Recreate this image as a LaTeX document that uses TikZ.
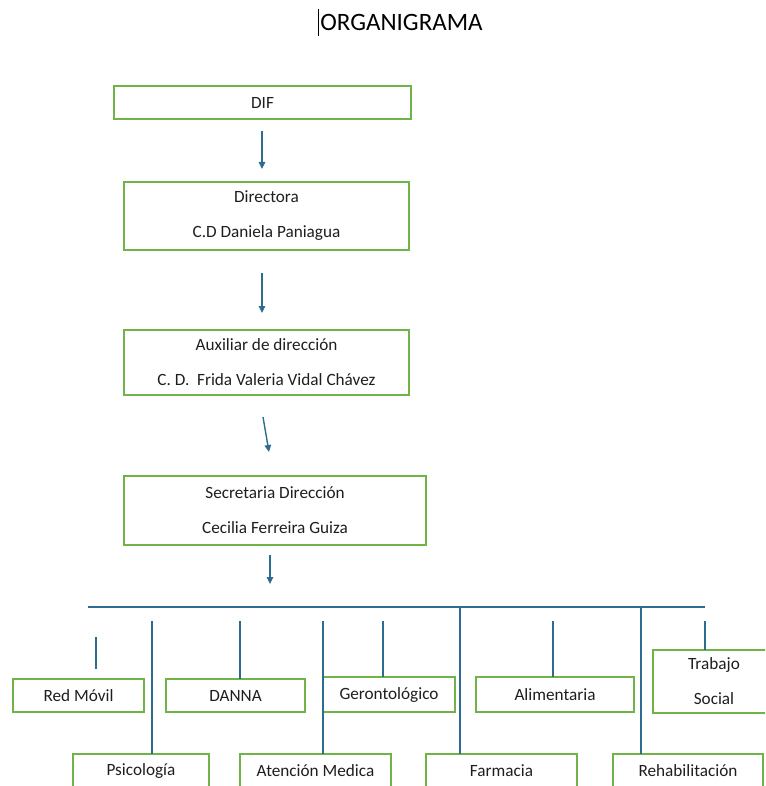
\documentclass[tikz,border=0pt]{standalone}
\usepackage{fontspec}
\setmainfont{Carlito}
\usetikzlibrary{arrows.meta}
\definecolor{boxgreen}{RGB}{112,180,71}
\definecolor{linkblue}{RGB}{44,108,145}
\definecolor{txtgray}{RGB}{30,30,30}
\tikzset{
  orgbox/.style={draw=boxgreen, line width=1.4pt, inner sep=0pt, outer sep=0pt,
    align=center, text=txtgray, font=\fontsize{17.2}{35}\selectfont},
  link/.style={draw=linkblue, line width=1.4pt},
  arr/.style={link, -{Triangle[width=6.5pt,length=7pt]}}
}
\begin{document}
\begin{tikzpicture}[x=1pt,y=-1pt]
\useasboundingbox (0,0) rectangle (765,786);
\clip (0,0) rectangle (765,786);
% title
\node[font=\fontsize{25}{28}\selectfont, text=black] (title) at (401.5,22) {ORGANIGRAMA};
\coordinate (curT) at (318,9);
\coordinate (curB) at (318,36);
\draw[line width=0.8pt] (curT) -- (curB);
% main chain
\node[orgbox, minimum width=297pt, minimum height=33pt] (dif) at (262.5,102.5) {DIF};
\node[orgbox, minimum width=285pt, minimum height=68pt] (dir) at (266.5,216) {Directora\\C.D Daniela Paniagua};
\node[orgbox, minimum width=285pt, minimum height=65pt] (aux) at (266.5,362.5) {Auxiliar de dirección\\C. D.\ \ Frida Valeria Vidal Chávez};
\node[orgbox, minimum width=302pt, minimum height=69pt] (sec) at (275,510.5) {Secretaria Dirección\\Cecilia Ferreira Guiza};
% arrows
\coordinate (a1s) at (262,131); \coordinate (a1e) at (262,169);
\coordinate (a2s) at (262,273); \coordinate (a2e) at (262,313);
\coordinate (a3s) at (263,417); \coordinate (a3e) at (269,452);
\coordinate (a4s) at (270,555); \coordinate (a4e) at (270,584);
\draw[arr] (a1s) -- (a1e);
\draw[arr] (a2s) -- (a2e);
\draw[arr] (a3s) -- (a3e);
\draw[arr] (a4s) -- (a4e);
% bar
\coordinate (barL) at (88,607);
\coordinate (barR) at (705,607);
\draw[link] (barL) -- (barR);
% lower boxes
\node[orgbox, minimum width=131pt, minimum height=33pt] (red) at (78.5,695.5) {Red Móvil};
\node[orgbox, minimum width=139pt, minimum height=33pt] (danna) at (235.5,695.5) {DANNA};
\node[orgbox, minimum width=132pt, minimum height=35pt] (geron) at (389,694.5) {Gerontológico};
\node[orgbox, minimum width=158pt, minimum height=35pt] (alim) at (555,694.5) {Alimentaria};
\node[orgbox, minimum width=122pt, minimum height=63pt] (trab) at (714,681.5) {Trabajo\\Social};
\node[orgbox, minimum width=136pt, minimum height=34pt] (psi) at (141,771) {Psicología};
\node[orgbox, minimum width=151pt, minimum height=34pt] (aten) at (315.5,771) {Atención Medica};
\node[orgbox, minimum width=151pt, minimum height=34pt] (farm) at (501.5,771) {Farmacia};
\node[orgbox, minimum width=150pt, minimum height=34pt] (rehab) at (688,771) {Rehabilitación};
% vertical links
\coordinate (redT) at (96,637); \coordinate (redB) at (96,669);
\draw[link] (redT) -- (redB);
\coordinate (psiT) at (152,621);
\draw[link] (psiT) -- (psiT |- psi.north);
\coordinate (dannaT) at (240,621);
\draw[link] (dannaT) -- (dannaT |- danna.north);
\coordinate (atenT) at (323,621);
\draw[link] (atenT) -- (atenT |- aten.north);
\coordinate (geronT) at (383,621);
\draw[link] (geronT) -- (geronT |- geron.north);
\coordinate (farmT) at (460,607);
\draw[link] (farmT) -- (farmT |- farm.north);
\coordinate (alimT) at (553,621);
\draw[link] (alimT) -- (alimT |- alim.north);
\coordinate (rehabT) at (641,607);
\draw[link] (rehabT) -- (rehabT |- rehab.north);
\coordinate (trabT) at (705,621);
\draw[link] (trabT) -- (trabT |- trab.north);
\end{tikzpicture}
\end{document}
